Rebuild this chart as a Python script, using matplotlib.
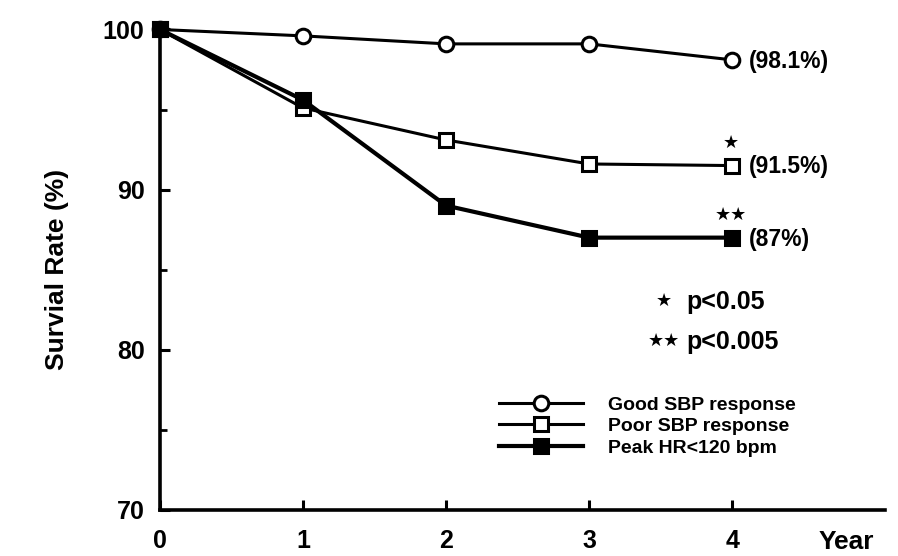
import numpy as np
import matplotlib.pyplot as plt
from matplotlib.ticker import MultipleLocator

plt.rcParams['font.family'] = ['Liberation Sans', 'DejaVu Sans']
plt.rcParams['font.weight'] = 'bold'

years = [0, 1, 2, 3, 4]
good_sbp = [100, 99.6, 99.1, 99.1, 98.1]
poor_sbp = [100, 95.1, 93.1, 91.6, 91.5]
peak_hr = [100, 95.6, 89.0, 87.0, 87.0]
end_labels = ['(98.1%)', '(91.5%)', '(87%)']
stars = ['', '\u2605', '\u2605\u2605']
names = ['Good SBP response', 'Poor SBP response', 'Peak HR<120 bpm']

fig = plt.figure(figsize=(8.98, 5.56), dpi=100)
ax = fig.add_axes([0.178, 0.083, 0.808, 0.864])

ax.plot(years, good_sbp, '-o', color='black', lw=2.2, ms=10.5, mfc='white', mew=2.2,
        label=names[0], clip_on=False, zorder=3)
ax.plot(years, poor_sbp, '-s', color='black', lw=2.2, ms=10.5, mfc='white', mew=2.2,
        label=names[1], clip_on=False, zorder=3)
ax.plot(years, peak_hr, '-s', color='black', lw=3.0, ms=10.5, mfc='black', mew=2.2,
        label=names[2], clip_on=False, zorder=4)

for series, lab, st in zip([good_sbp, poor_sbp, peak_hr], end_labels, stars):
    ax.annotate(lab, (years[-1], series[-1]), xytext=(12, -1), textcoords='offset points',
                va='center', ha='left', fontsize=16.5)
    if st:
        ax.annotate(st, (years[-1], series[-1]), xytext=(-1, 16), textcoords='offset points',
                    va='center', ha='center', fontsize=13)

ax.text(3.52, 83.0, '\u2605', fontsize=13, ha='center', va='center')
ax.text(3.68, 83.0, 'p<0.05', fontsize=18, ha='left', va='center')
ax.text(3.52, 80.5, '\u2605\u2605', fontsize=13, ha='center', va='center')
ax.text(3.68, 80.5, 'p<0.005', fontsize=18, ha='left', va='center')

ax.set_xlim(0, 5.07)
ax.set_ylim(70, 100)
ax.set_xticks(years)
ax.yaxis.set_major_locator(MultipleLocator(10))
ax.yaxis.set_minor_locator(MultipleLocator(5))
ax.tick_params(axis='both', which='major', direction='in', length=7, width=2.2,
               labelsize=18, pad=11)
ax.tick_params(axis='x', pad=14)
ax.tick_params(axis='y', which='minor', direction='in', length=5, width=2)
for side in ['top', 'right']:
    ax.spines[side].set_visible(False)
for side in ['left', 'bottom']:
    ax.spines[side].set_linewidth(2.6)

ax.set_ylabel('Survial Rate (%)', fontsize=19, fontweight='bold', labelpad=24)
ax.text(4.8, 68.0, 'Year', fontsize=19, ha='center', va='center', clip_on=False)

ax.legend(loc='upper left', bbox_to_anchor=(0.545, 0.305), bbox_transform=fig.transFigure,
          frameon=False, fontsize=14, handlelength=4.3, handletextpad=1.3,
          labelspacing=0.2, borderpad=0, numpoints=1)

fig.savefig('out.png', dpi=100)
